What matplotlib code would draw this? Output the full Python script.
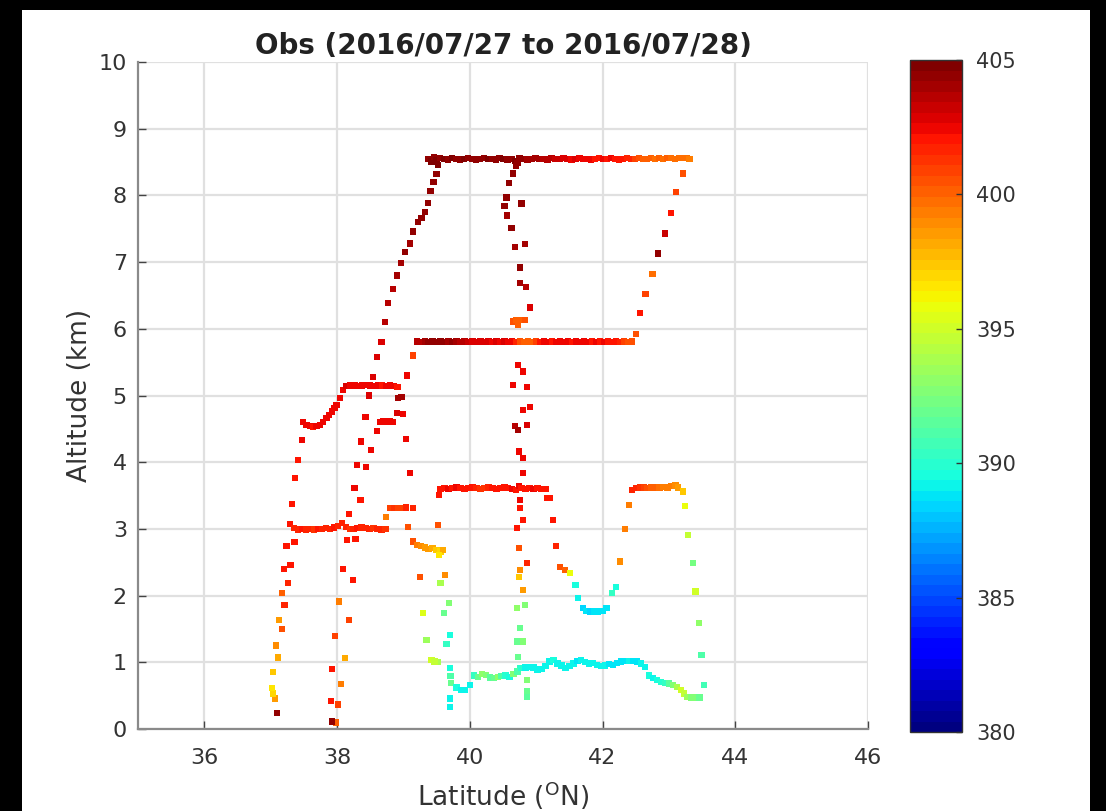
import numpy as np
import matplotlib
matplotlib.use('Agg')
from matplotlib import pyplot as plt
from matplotlib.patches import Rectangle

# (latitude, altitude km, CO2 ppm), one list per flight leg
leg_left = [
    (37.09, 0.24, 404.5), (37.06, 0.46, 398.5), (37.03, 0.53, 397.0), (37.02, 0.61, 396.5),
    (37.03, 0.85, 397.5), (37.11, 1.07, 398.0), (37.08, 1.25, 399.0), (37.17, 1.50, 400.5),
    (37.12, 1.63, 398.5), (37.21, 1.86, 401.8), (37.17, 2.04, 400.2), (37.26, 2.19, 401.8),
    (37.20, 2.40, 402.0), (37.30, 2.46, 402.2), (37.24, 2.74, 402.0), (37.36, 2.80, 402.2),
    (37.29, 3.07, 402.2), (37.32, 3.37, 402.2), (37.37, 3.76, 402.0), (37.41, 4.03, 402.2),
    (37.47, 4.33, 402.5),
]

leg_45 = [
    (37.49, 4.60, 402.5), (37.54, 4.56, 402.3), (37.59, 4.54, 402.5), (37.64, 4.53, 402.2),
    (37.69, 4.54, 402.4), (37.74, 4.56, 402.3), (37.79, 4.60, 402.5), (37.84, 4.66, 402.3),
    (37.88, 4.71, 402.4), (37.92, 4.76, 402.5), (37.96, 4.81, 402.3), (37.99, 4.86, 402.5),
    (38.04, 4.96, 402.4), (38.09, 5.08, 402.6), (38.14, 5.14, 402.8), (38.20, 5.15, 402.5),
    (38.26, 5.15, 402.3), (38.32, 5.14, 402.5), (38.38, 5.15, 402.4), (38.44, 5.16, 402.6),
    (38.50, 5.15, 402.3), (38.56, 5.14, 402.5), (38.62, 5.15, 402.4), (38.68, 5.15, 402.2),
    (38.74, 5.14, 402.5), (38.80, 5.15, 402.3), (38.86, 5.14, 402.4), (38.91, 5.13, 402.2),
]

leg_30 = [
    (37.35, 3.01, 401.8), (37.41, 2.99, 401.5), (37.47, 3.00, 401.9), (37.53, 2.99, 401.6),
    (37.59, 3.00, 401.8), (37.65, 2.99, 401.4), (37.71, 3.00, 401.9), (37.77, 3.00, 401.6),
    (37.83, 3.01, 401.8), (37.89, 3.00, 401.5), (37.95, 3.02, 401.9), (38.01, 3.04, 401.7),
    (38.07, 3.09, 401.5), (38.13, 3.03, 401.8), (38.19, 3.00, 401.4), (38.25, 3.00, 401.7),
    (38.31, 3.01, 401.9), (38.37, 3.02, 401.5), (38.43, 3.01, 401.8), (38.49, 3.00, 401.6),
    (38.55, 3.01, 401.3), (38.61, 3.00, 401.7), (38.67, 2.99, 401.5), (38.73, 3.00, 401.2),
]

leg_38 = [
    (37.98, 0.10, 400.0), (37.92, 0.11, 404.5), (38.01, 0.37, 401.0), (37.91, 0.42, 402.0),
    (38.06, 0.67, 399.5), (37.92, 0.90, 402.0), (38.12, 1.06, 398.0), (37.97, 1.39, 401.0),
    (38.18, 1.63, 401.0), (38.03, 1.91, 399.5), (38.24, 2.23, 402.0), (38.09, 2.40, 402.0),
    (38.15, 2.83, 402.0), (38.28, 2.85, 402.0), (38.18, 3.22, 402.2), (38.35, 3.43, 402.0),
    (38.26, 3.61, 402.5), (38.30, 3.96, 402.5), (38.44, 3.93, 402.3), (38.36, 4.31, 402.5),
    (38.51, 4.18, 402.5), (38.43, 4.68, 402.5), (38.60, 4.47, 402.5), (38.48, 5.00, 402.8),
    (38.54, 5.28, 403.0), (38.60, 5.58, 403.0), (38.67, 5.80, 403.0),
]

leg_climb = [
    (38.72, 6.10, 403.5), (38.77, 6.39, 403.6), (38.84, 6.60, 403.8), (38.90, 6.80, 404.0),
    (38.96, 6.99, 404.2), (39.02, 7.15, 404.3), (39.10, 7.28, 404.2), (39.14, 7.46, 404.4),
    (39.22, 7.60, 404.3), (39.27, 7.66, 404.5), (39.32, 7.75, 404.4), (39.37, 7.89, 404.5),
    (39.41, 8.07, 404.6), (39.45, 8.20, 404.5), (39.50, 8.32, 404.6), (39.52, 8.46, 404.7),
]

leg_39 = [
    (39.14, 5.60, 400.8), (39.05, 5.30, 402.5), (38.97, 4.98, 404.0), (38.92, 4.96, 404.0),
    (38.90, 4.74, 403.0), (38.99, 4.72, 402.5), (38.65, 4.60, 402.5), (38.70, 4.61, 402.3),
    (38.75, 4.60, 402.5), (38.80, 4.61, 402.3), (38.84, 4.60, 402.5), (39.04, 4.35, 402.3),
    (39.10, 3.84, 402.3), (38.80, 3.31, 401.0), (38.86, 3.31, 401.2), (38.92, 3.31, 400.8),
    (38.98, 3.31, 401.0), (39.04, 3.32, 401.5), (39.14, 3.31, 401.8), (38.74, 3.18, 399.5),
    (39.07, 3.03, 400.5),
]

leg_top = [
    (39.38, 8.55, 404.6), (39.42, 8.51, 404.8), (39.46, 8.58, 404.5), (39.50, 8.53, 404.7),
    (39.55, 8.56, 404.6), (39.61, 8.55, 404.8), (39.67, 8.54, 404.5), (39.73, 8.56, 404.7),
    (39.79, 8.55, 404.6), (39.85, 8.54, 404.4), (39.91, 8.55, 404.7), (39.97, 8.56, 404.5),
    (40.03, 8.55, 404.6), (40.09, 8.54, 404.3), (40.15, 8.55, 404.6), (40.21, 8.56, 404.5),
    (40.27, 8.55, 404.7), (40.33, 8.55, 404.4), (40.39, 8.54, 404.6), (40.45, 8.56, 404.5),
    (40.51, 8.55, 404.7), (40.57, 8.54, 404.4), (40.63, 8.55, 404.6), (40.69, 8.52, 404.7),
    (40.72, 8.49, 404.5), (40.75, 8.56, 404.4), (40.81, 8.55, 404.3), (40.87, 8.54, 404.2),
    (40.93, 8.55, 404.0), (40.99, 8.56, 404.1), (41.05, 8.55, 403.9), (41.11, 8.55, 403.8),
    (41.17, 8.54, 403.6), (41.23, 8.56, 403.5), (41.29, 8.55, 403.3), (41.35, 8.55, 403.2),
    (41.41, 8.56, 403.0), (41.47, 8.55, 402.8), (41.53, 8.54, 402.6), (41.59, 8.55, 402.7),
    (41.65, 8.56, 402.5), (41.71, 8.55, 402.6), (41.77, 8.55, 402.4), (41.83, 8.54, 402.5),
    (41.89, 8.55, 402.2), (41.95, 8.56, 402.0), (42.01, 8.55, 402.3), (42.07, 8.55, 402.1),
    (42.13, 8.56, 402.3), (42.19, 8.55, 402.0), (42.25, 8.54, 402.2), (42.31, 8.55, 402.0),
    (42.37, 8.56, 401.8), (42.43, 8.55, 401.5), (42.49, 8.55, 401.0), (42.55, 8.56, 400.5),
    (42.61, 8.55, 400.2), (42.67, 8.55, 400.0), (42.73, 8.56, 400.3), (42.79, 8.55, 399.9),
    (42.85, 8.56, 400.1), (42.91, 8.55, 399.8), (42.97, 8.56, 400.0), (43.03, 8.56, 399.7),
    (43.09, 8.55, 399.9), (43.15, 8.56, 399.6), (43.21, 8.56, 399.8), (43.27, 8.56, 399.7),
    (43.31, 8.55, 399.5),
]

leg_58 = [
    (39.20, 5.81, 403.5), (39.26, 5.80, 403.8), (39.32, 5.81, 404.2), (39.38, 5.80, 404.4),
    (39.44, 5.81, 404.5), (39.50, 5.80, 404.3), (39.56, 5.81, 404.5), (39.62, 5.80, 404.4),
    (39.68, 5.81, 404.2), (39.74, 5.80, 404.3), (39.80, 5.81, 403.9), (39.86, 5.80, 403.7),
    (39.92, 5.81, 403.8), (39.98, 5.80, 403.4), (40.04, 5.81, 403.0), (40.10, 5.80, 402.8),
    (40.16, 5.81, 402.9), (40.22, 5.80, 402.7), (40.28, 5.81, 402.8), (40.34, 5.80, 402.6),
    (40.40, 5.81, 402.8), (40.46, 5.80, 402.5), (40.52, 5.81, 402.7), (40.58, 5.80, 402.5),
    (40.64, 5.81, 402.3), (40.70, 5.80, 401.8), (40.76, 5.81, 400.5), (40.82, 5.80, 400.2),
    (40.88, 5.81, 400.0), (40.94, 5.80, 400.3), (41.00, 5.81, 401.0), (41.06, 5.80, 402.0),
    (41.12, 5.81, 402.3), (41.18, 5.80, 402.5), (41.24, 5.81, 402.2), (41.30, 5.80, 402.4),
    (41.36, 5.81, 402.6), (41.42, 5.80, 402.3), (41.48, 5.81, 402.5), (41.54, 5.80, 402.2),
    (41.60, 5.81, 402.4), (41.66, 5.80, 402.6), (41.72, 5.81, 402.3), (41.78, 5.80, 402.5),
    (41.84, 5.81, 402.2), (41.90, 5.80, 402.4), (41.96, 5.81, 402.1), (42.02, 5.80, 402.3),
    (42.08, 5.81, 402.0), (42.14, 5.80, 402.2), (42.20, 5.81, 401.9), (42.26, 5.80, 401.5),
    (42.32, 5.81, 400.8), (42.38, 5.80, 400.5), (42.44, 5.81, 400.6),
]

leg_right = [
    (42.50, 5.92, 400.5), (42.56, 6.24, 402.0), (42.65, 6.52, 401.0), (42.75, 6.82, 399.8),
    (42.84, 7.13, 404.3), (42.94, 7.43, 403.2), (43.03, 7.74, 402.0), (43.11, 8.05, 401.0),
    (43.21, 8.33, 400.5),
]

leg_407 = [
    (40.70, 8.44, 404.6), (40.65, 8.33, 404.5), (40.59, 8.19, 404.6), (40.55, 7.97, 404.4),
    (40.52, 7.84, 404.5), (40.78, 7.88, 404.3), (40.56, 7.70, 404.2), (40.63, 7.51, 404.4),
    (40.68, 7.23, 404.2), (40.83, 7.27, 404.0), (40.76, 6.92, 404.3), (40.76, 6.69, 404.0),
    (40.85, 6.63, 403.8), (40.91, 6.32, 403.0), (40.65, 6.11, 400.5), (40.70, 6.13, 400.2),
    (40.76, 6.13, 400.0), (40.83, 6.13, 400.4), (40.73, 6.06, 400.2),
    (40.73, 5.46, 402.5), (40.80, 5.36, 402.3), (40.65, 5.16, 402.5), (40.86, 5.13, 402.3),
    (40.80, 4.78, 402.6), (40.91, 4.83, 402.3), (40.68, 4.54, 403.5), (40.73, 4.48, 404.0),
    (40.86, 4.56, 403.0), (40.74, 4.16, 402.5), (40.80, 4.06, 402.3), (40.80, 3.84, 402.5),
    (40.76, 3.43, 402.3), (40.76, 3.31, 402.0), (40.71, 3.01, 402.2), (40.80, 3.13, 402.0),
    (40.74, 2.71, 400.5), (40.86, 2.49, 401.5), (40.76, 2.38, 399.0), (40.74, 2.28, 397.5),
    (40.80, 2.08, 398.5), (40.71, 1.81, 393.0), (40.83, 1.86, 392.5), (40.76, 1.51, 392.0),
    (40.71, 1.31, 392.0), (40.80, 1.31, 392.5), (40.73, 1.08, 392.0), (40.76, 0.91, 390.5),
    (40.86, 0.73, 392.5), (40.86, 0.56, 392.0), (40.86, 0.48, 391.5),
]

leg_36a = [
    (39.54, 3.51, 402.0), (39.52, 3.06, 400.5),
    (39.56, 3.60, 402.2), (39.62, 3.61, 402.0), (39.68, 3.60, 402.3), (39.74, 3.61, 402.1),
    (39.80, 3.62, 402.3), (39.86, 3.61, 402.0), (39.92, 3.60, 402.2), (39.98, 3.61, 401.9),
    (40.04, 3.62, 402.1), (40.10, 3.61, 401.6), (40.16, 3.60, 401.3), (40.22, 3.61, 401.2),
    (40.28, 3.62, 401.5), (40.34, 3.61, 401.9), (40.40, 3.60, 402.1), (40.46, 3.61, 402.2),
    (40.52, 3.62, 402.0), (40.58, 3.61, 402.2), (40.64, 3.60, 402.3), (40.70, 3.58, 402.1),
    (40.74, 3.64, 402.3), (40.78, 3.61, 402.0), (40.84, 3.60, 402.2), (40.90, 3.61, 402.1),
    (40.96, 3.60, 402.3), (41.02, 3.61, 402.0), (41.08, 3.60, 402.2), (41.14, 3.60, 402.1),
]

leg_27 = [
    (39.14, 2.81, 400.5), (39.20, 2.76, 399.5), (39.26, 2.74, 399.0), (39.32, 2.72, 398.5),
    (39.38, 2.70, 398.5), (39.44, 2.71, 398.0), (39.50, 2.68, 397.5), (39.56, 2.66, 397.0),
    (39.60, 2.68, 398.0), (39.54, 2.61, 396.5),
    (39.25, 2.28, 400.5), (39.63, 2.31, 399.0), (39.56, 2.19, 394.0), (39.29, 1.74, 395.5),
    (39.61, 1.74, 392.0), (39.69, 1.89, 392.5), (39.70, 1.41, 389.5), (39.65, 1.27, 390.5),
    (39.35, 1.33, 393.5), (39.42, 1.03, 395.0), (39.52, 1.00, 394.0), (39.47, 1.01, 394.5),
]

leg_u0 = [
    (39.70, 0.91, 389.5), (39.71, 0.79, 391.0), (39.72, 0.69, 392.0), (39.80, 0.62, 389.5),
    (39.87, 0.58, 389.0), (39.93, 0.58, 389.0), (40.00, 0.66, 389.0), (39.70, 0.46, 389.0),
    (39.70, 0.33, 389.0),
]

leg_u = [
    (41.16, 3.46, 402.0), (41.21, 3.46, 402.2), (41.25, 3.13, 402.0), (41.30, 2.74, 401.8),
    (41.36, 2.43, 400.5), (41.43, 2.38, 400.0), (41.51, 2.34, 396.0), (41.59, 2.16, 389.5),
    (41.63, 1.96, 389.0), (41.71, 1.81, 388.5), (41.76, 1.77, 388.8), (41.81, 1.76, 388.5),
    (41.87, 1.76, 388.8), (41.93, 1.76, 388.6), (42.00, 1.77, 388.8), (42.06, 1.81, 388.7),
    (42.14, 2.04, 390.5), (42.20, 2.13, 389.5),
    (42.26, 2.51, 399.0), (42.34, 3.00, 399.5), (42.40, 3.36, 399.5),
]

leg_36b = [
    (42.44, 3.58, 401.8), (42.50, 3.61, 401.5), (42.56, 3.62, 401.2), (42.62, 3.62, 401.0),
    (42.68, 3.61, 400.6), (42.74, 3.62, 400.3), (42.80, 3.62, 400.0), (42.86, 3.62, 399.8),
    (42.92, 3.63, 399.5), (42.98, 3.62, 399.2), (43.04, 3.64, 399.4), (43.10, 3.65, 398.8),
    (43.14, 3.62, 398.5),
]

leg_rdesc = [
    (43.21, 3.56, 397.5), (43.24, 3.34, 395.8), (43.29, 2.91, 394.5), (43.36, 2.49, 392.3),
    (43.40, 2.06, 395.0), (43.45, 1.59, 393.0), (43.49, 1.11, 391.0), (43.53, 0.66, 390.8),
]

leg_low = [
    (40.06, 0.80, 390.5), (40.12, 0.78, 392.0), (40.18, 0.82, 393.0), (40.24, 0.81, 392.5),
    (40.30, 0.77, 391.5), (40.36, 0.76, 392.0), (40.42, 0.78, 393.0), (40.48, 0.79, 391.0),
    (40.54, 0.80, 390.0), (40.60, 0.78, 389.5), (40.66, 0.82, 392.5), (40.72, 0.86, 391.0),
    (40.78, 0.91, 390.0), (40.84, 0.92, 389.3), (40.90, 0.93, 389.0), (40.96, 0.92, 389.2),
    (41.02, 0.89, 389.0), (41.08, 0.90, 389.3), (41.14, 0.94, 389.0), (41.20, 1.01, 389.2),
    (41.26, 1.03, 389.4), (41.32, 0.98, 389.0), (41.38, 0.95, 389.2), (41.44, 0.91, 389.0),
    (41.50, 0.94, 389.3), (41.56, 0.98, 389.0), (41.62, 1.02, 388.8), (41.68, 1.03, 389.0),
    (41.74, 1.00, 389.3), (41.80, 0.98, 389.0), (41.86, 0.99, 389.2), (41.92, 0.96, 389.0),
    (41.98, 0.94, 389.1), (42.04, 0.95, 389.0), (42.10, 0.97, 388.8), (42.16, 0.96, 388.7),
    (42.22, 0.99, 388.8), (42.28, 1.01, 388.7), (42.34, 1.02, 388.8), (42.40, 1.02, 389.0),
    (42.46, 1.02, 388.7), (42.52, 1.01, 388.8), (42.58, 0.98, 389.0), (42.64, 0.93, 389.2),
    (42.70, 0.80, 389.5), (42.76, 0.76, 389.3), (42.82, 0.73, 389.5), (42.88, 0.70, 389.8),
    (42.94, 0.69, 390.5), (43.00, 0.68, 391.5), (43.06, 0.66, 392.5), (43.12, 0.63, 394.0),
    (43.18, 0.58, 395.0), (43.23, 0.53, 394.5), (43.28, 0.48, 393.5), (43.34, 0.47, 392.5),
    (43.40, 0.47, 392.5), (43.46, 0.47, 392.0),
]

cb_ticks = [380, 385, 390, 395, 400, 405]
x_ticks = [36, 38, 40, 42, 44, 46]

def main():
    pts = np.array(leg_left + leg_45 + leg_30 + leg_38 + leg_climb + leg_39 + leg_top
                   + leg_58 + leg_right + leg_407 + leg_36a + leg_27 + leg_u0 + leg_u
                   + leg_36b + leg_rdesc + leg_low)

    fig = plt.figure(figsize=(11.06, 8.11), dpi=100, facecolor='black')
    # white page inside the black frame
    page = Rectangle((22 / 1106, 0), 1068 / 1106, 801 / 811, transform=fig.transFigure,
                     facecolor='white', edgecolor='none', zorder=-10)
    fig.add_artist(page)

    ax = fig.add_axes([138 / 1106, 82 / 811, 730 / 1106, 667 / 811])
    ax.set_facecolor('white')
    cmap = plt.get_cmap('jet', 64)
    sc = ax.scatter(pts[:, 0], pts[:, 1], c=pts[:, 2], cmap=cmap, vmin=380, vmax=405,
                    marker='s', s=21, linewidths=0, zorder=3)

    ax.set_xlim(35, 46)
    ax.set_ylim(0, 10)
    ax.set_xticks(x_ticks)
    ax.set_yticks(range(0, 11))
    ax.grid(True, color='#e0e0e0', lw=1.6)
    ax.set_axisbelow(True)
    for s in ['top', 'right']:
        ax.spines[s].set_visible(False)
    for s in ['left', 'bottom']:
        ax.spines[s].set_color('#8a8a8a')
        ax.spines[s].set_linewidth(1.6)
    ax.tick_params(direction='in', length=6, width=1, colors='#444444',
                   labelsize=16, labelcolor='#333333')
    ax.tick_params(axis='x', pad=14)
    ax.tick_params(axis='y', pad=8)

    ax.set_title('Obs (2016/07/27 to 2016/07/28)', fontsize=20, fontweight='bold',
                 color='#222222', pad=6)
    ax.set_xlabel('Latitude ($^{\\mathrm{O}}$N)', fontsize=19, color='#333333', labelpad=8)
    ax.set_ylabel('Altitude (km)', fontsize=19, color='#333333', labelpad=4)

    cax = fig.add_axes([910 / 1106, 79 / 811, 52 / 1106, 672 / 811])
    cb = fig.colorbar(sc, cax=cax, ticks=cb_ticks)
    cb.outline.set_edgecolor('#333333')
    cb.outline.set_linewidth(1.0)
    cb.ax.tick_params(direction='in', length=4, width=1, colors='#333333',
                      labelsize=15, pad=10)

    plt.savefig('out.png', dpi=100, facecolor=fig.get_facecolor())

if __name__ == '__main__':
    main()
